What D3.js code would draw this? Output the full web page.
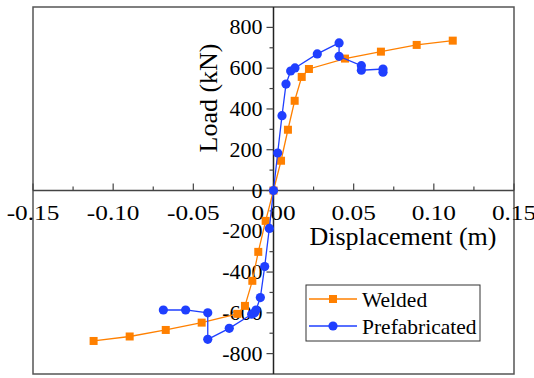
<!DOCTYPE html>
<html>
<head>
<meta charset="utf-8">
<style>
  body { margin: 0; background: #fff; }
  svg text { font-family: "Liberation Serif", "Times New Roman", serif; }
</style>
</head>
<body>
<svg></svg>
<script src="https://cdn.jsdelivr.net/npm/d3@7/dist/d3.min.js"></script>
<script>
    const width = 534;
    const height = 378;
    const serif = '"Liberation Serif"';

    // Welded: displacement (m), load (kN)
    const weldedDisp = [-0.1122, -0.0897, -0.0672, -0.0448, -0.0226, -0.0178, -0.0132, -0.0095, -0.0049, 0,
                        0.0047, 0.009, 0.0132, 0.0176, 0.0221, 0.0446, 0.067, 0.0893, 0.1118];
    const weldedLoad = [-738, -716, -684, -648, -605, -566, -443, -301, -149, 0,
                        146, 298, 440, 557, 596, 647, 681, 714, 735];

    // Prefabricated
    const prefabDisp = [-0.0687, -0.0548, -0.041, -0.041, -0.0276, -0.0136, -0.0118, -0.0109, -0.0082, -0.0055, -0.0026, 0,
                        0.0026, 0.0053, 0.0078, 0.0107, 0.0134, 0.0273, 0.0409, 0.0409, 0.0548, 0.0548, 0.0683, 0.0683];
    const prefabLoad = [-586, -586, -600, -730, -676, -607, -600, -586, -525, -373, -186, 0,
                        184, 367, 522, 586, 601, 670, 724, 658, 612, 590, 596, 580];

    const xTicks = [-0.15, -0.10, -0.05, 0.00, 0.05, 0.10, 0.15];
    const yTicks = [-800, -600, -400, -200, 0, 200, 400, 600, 800];

    const seriesNames = ['Welded', 'Prefabricated'];
    const colors = ['#ff8000', '#1f3fff'];

    const plot = { left: 33, right: 514, top: 7, bottom: 374 };

    const svg = d3.select('svg').attr('width', width).attr('height', height);

    const x = d3.scaleLinear().domain([-0.15, 0.15]).range([plot.left, plot.right]);
    const y = d3.scaleLinear().domain([-900, 900]).range([plot.bottom, plot.top]);

    const axisColor = '#444';

    // frame
    svg.append('rect')
        .attr('x', plot.left).attr('y', plot.top)
        .attr('width', plot.right - plot.left).attr('height', plot.bottom - plot.top)
        .attr('fill', 'none').attr('stroke', '#555').attr('stroke-width', 1.5);

    // x axis through zero, ticks pointing up
    const gx = svg.append('g').attr('transform', `translate(0,${y(0)})`);
    gx.append('line').attr('x1', plot.left).attr('x2', plot.right)
        .attr('stroke', axisColor).attr('stroke-width', 1.5);
    gx.selectAll('.tk').data(d3.range(-6, 7))
        .enter().append('line')
        .attr('x1', d => x(d * 0.025)).attr('x2', d => x(d * 0.025))
        .attr('y1', 0).attr('y2', d => d % 2 === 0 ? -7 : -4)
        .attr('stroke', axisColor).attr('stroke-width', 1.2);
    gx.selectAll('.lbl').data(xTicks)
        .enter().append('text')
        .attr('transform', d => `translate(${x(d)},29) scale(1.15,1)`)
        .attr('text-anchor', 'middle')
        .attr('font-family', 'Liberation Serif')
        .style('font-family', serif)
        .attr('font-size', 22)
        .text(d => d3.format('.2f')(d).replace('−', '-'));

    // y axis through zero, ticks pointing left
    const gy = svg.append('g').attr('transform', `translate(${x(0)},0)`);
    gy.append('line').attr('y1', plot.top).attr('y2', plot.bottom)
        .attr('stroke', '#222').attr('stroke-width', 1.5);
    gy.selectAll('.tk').data(d3.range(-8, 9))
        .enter().append('line')
        .attr('y1', d => y(d * 100)).attr('y2', d => y(d * 100))
        .attr('x1', 0).attr('x2', d => d % 2 === 0 ? -7 : -4)
        .attr('stroke', axisColor).attr('stroke-width', 1.2);
    gy.selectAll('.lbl').data(yTicks)
        .enter().append('text')
        .attr('transform', d => `translate(-11,${y(d)}) scale(1.1,1)`)
        .attr('dy', '0.35em')
        .attr('text-anchor', 'end')
        .attr('font-family', 'Liberation Serif')
        .style('font-family', serif)
        .attr('font-size', 20)
        .text(d => d3.format('d')(d).replace('−', '-'));

    // axis titles
    svg.append('text')
        .attr('transform', `translate(${217},${98}) rotate(-90)`)
        .attr('text-anchor', 'middle')
        .attr('font-family', 'Liberation Serif')
        .style('font-family', serif)
        .attr('font-size', 26)
        .text('Load (kN)');
    svg.append('text')
        .attr('x', 403).attr('y', 245)
        .attr('text-anchor', 'middle')
        .attr('font-family', 'Liberation Serif')
        .style('font-family', serif)
        .attr('font-size', 26)
        .text('Displacement (m)');

    // series
    const line = d3.line().x(d => x(d[0])).y(d => y(d[1]));
    const welded = d3.zip(weldedDisp, weldedLoad);
    const prefab = d3.zip(prefabDisp, prefabLoad);

    svg.append('path').datum(welded)
        .attr('d', line).attr('fill', 'none')
        .attr('stroke', colors[0]).attr('stroke-width', 1.3);
    svg.selectAll('.sq').data(welded)
        .enter().append('rect')
        .attr('x', d => x(d[0]) - 4).attr('y', d => y(d[1]) - 4)
        .attr('width', 8).attr('height', 8)
        .attr('fill', colors[0]);

    svg.append('path').datum(prefab)
        .attr('d', line).attr('fill', 'none')
        .attr('stroke', colors[1]).attr('stroke-width', 1.3);
    svg.selectAll('.ci').data(prefab)
        .enter().append('circle')
        .attr('cx', d => x(d[0])).attr('cy', d => y(d[1]))
        .attr('r', 4.6)
        .attr('fill', colors[1]);

    // legend
    const legend = svg.append('g').attr('transform', 'translate(306,285)');
    legend.append('rect')
        .attr('width', 174).attr('height', 56)
        .attr('fill', '#fff').attr('stroke', '#333').attr('stroke-width', 1);
    seriesNames.forEach((name, i) => {
        const ly = 14 + i * 27;
        legend.append('line')
            .attr('x1', 3).attr('x2', 51).attr('y1', ly).attr('y2', ly)
            .attr('stroke', colors[i]).attr('stroke-width', 1.3);
        if (i === 0) {
            legend.append('rect').attr('x', 23).attr('y', ly - 4)
                .attr('width', 8).attr('height', 8).attr('fill', colors[i]);
        } else {
            legend.append('circle').attr('cx', 27).attr('cy', ly)
                .attr('r', 4.6).attr('fill', colors[i]);
        }
        legend.append('text')
            .attr('x', 56).attr('y', ly).attr('dy', '0.35em')
            .attr('font-family', 'Liberation Serif')
            .style('font-family', serif)
            .attr('font-size', 21.5)
            .text(name);
    });
</script>
</body>
</html>
